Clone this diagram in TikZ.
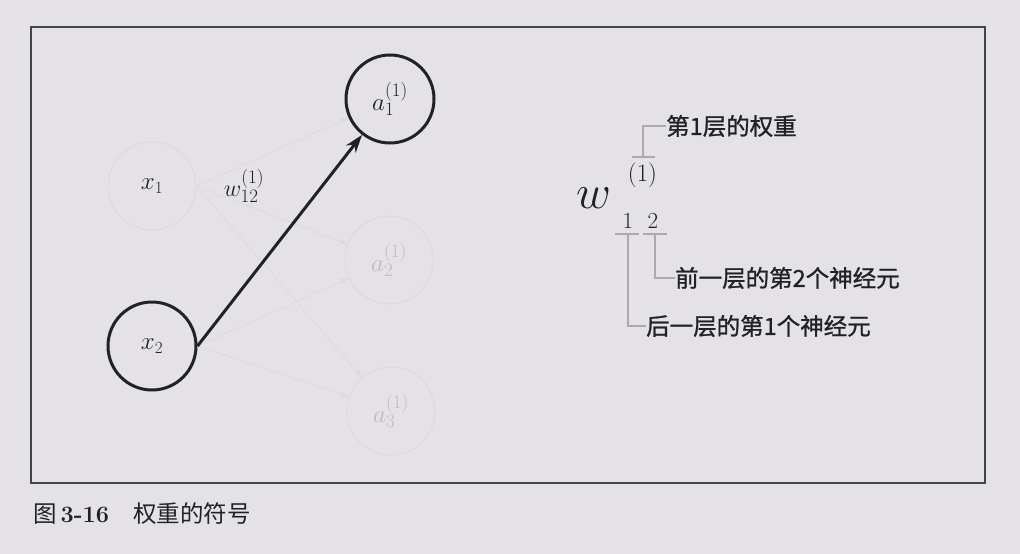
\RequirePackage{fix-cm}
\documentclass[tikz,border=0pt]{standalone}
\usepackage{fontspec}
\newfontfamily\cjk{Noto Sans CJK SC}
\newfontfamily\cjkb[FakeBold=1]{Noto Sans CJK SC}
\newcommand\scr[1]{\mbox{\fontsize{19}{20}\selectfont$#1$}}
\newcommand\scrlow[1]{\raisebox{-3pt}{\fontsize{19}{20}\selectfont$#1$}}
\newcommand\scrx[1]{\mbox{\fontsize{17}{18}\selectfont$#1$}}
\usetikzlibrary{arrows.meta}
\definecolor{bgc}{HTML}{E4E2E7}
\definecolor{framec}{HTML}{444444}
\definecolor{faintc}{HTML}{DAD8DD}
\definecolor{faintline}{HTML}{DCDAE0}
\definecolor{fainttext}{HTML}{BDBBC0}
\definecolor{boldc}{HTML}{222222}
\definecolor{brackc}{HTML}{ABA9AE}
\tikzset{
  neuron/.style={circle, minimum size=88pt, inner sep=0pt, font=\fontsize{25}{29}\selectfont},
  faintneuron/.style={neuron, draw=faintc, line width=0.8pt, text=fainttext},
  boldneuron/.style={neuron, draw=boldc, line width=3pt, text=boldc},
  faintedge/.style={draw=faintline, line width=0.8pt, -{Stealth[length=9pt,width=6pt]}},
  boldedge/.style={draw=boldc, line width=3pt, -{Stealth[length=18pt,width=12pt]}},
  brack/.style={draw=brackc, line width=1.8pt},
  mathlbl/.style={inner sep=0pt, font=\fontsize{24}{28}\selectfont},
  cjklbl/.style={inner sep=0pt, anchor=west, font=\cjkb\fontsize{23.5}{28}\selectfont, text=boldc},
}
\begin{document}
\begin{tikzpicture}[x=1pt,y=-1pt]
\fill[bgc] (0,0) rectangle (1020,554);
\useasboundingbox (0,0) rectangle (1020,554);
\draw[framec, line width=1.3pt] (31,27) rectangle (985,483);

% neurons
\node[faintneuron, text=boldc] (x1) at (152,186) {$x_{\scrx{1}}$};
\node[boldneuron] (x2) at (152,346) {$x_{\scrx{2}}$};
\node[boldneuron] (a1) at (390,99) {$a_{\scrlow{1}}^{\scr{(1)}}$};
\node[faintneuron] (a2) at (389,260) {$a_{\scrlow{2}}^{\scr{(1)}}$};
\node[faintneuron] (a3) at (391,411) {$a_{\scrlow{3}}^{\scr{(1)}}$};

% faint connectors
\draw[faintedge] (x1.east) -- (a1);
\draw[faintedge] (x1.east) -- (a2);
\draw[faintedge] (x1.east) -- (a3);
\draw[faintedge] (x2.east) -- (a2);
\draw[faintedge] (x2.east) -- (a3);
% bold connector
\draw[boldedge] (x2.east) -- (a1);

\node[mathlbl, text=boldc] (wlbl) at (244,186) {$w_{\scr{12}}^{\scr{(1)}}$};

% right-hand notation
\node[inner sep=0pt, anchor=base, font=\fontsize{48}{56}\selectfont, text=boldc] (W) at (593.5,208) {$w$};
\node[inner sep=0pt, anchor=base, font=\fontsize{25}{30}\selectfont, text=boldc] (L) at (642.5,181) {$(1)$};
\node[inner sep=0pt, anchor=base, font=\fontsize{23}{28}\selectfont, text=boldc] (I) at (628,228) {$1$};
\node[inner sep=0pt, anchor=base, font=\fontsize{23}{28}\selectfont, text=boldc] (J) at (653,228) {$2$};

\node[cjklbl] (tL) at (666,126) {第1层的权重};
\node[cjklbl] (tJ) at (675,278) {前一层的第2个神经元};
\node[cjklbl] (tI) at (646,326) {后一层的第1个神经元};

\coordinate (Lb) at (643,157);
\coordinate (Ib) at (628,234);
\coordinate (Jb) at (655,234);
\draw[brack] (632,157) -- (655,157);
\draw[brack] (Lb) |- (tL.west);
\draw[brack] (615,234) -- (639,234);
\draw[brack] (643,234) -- (667,234);
\draw[brack] (Ib) |- (tI.west);
\draw[brack] (Jb) |- (tJ.west);

% caption
\node[inner sep=0pt, anchor=west, text=boldc, font=\fontsize{23.5}{28}\selectfont] (cap) at (33,514)
  {{\cjk 图}\,\textbf{3-16}\hspace{24pt}{\cjk 权重的符号}};
\end{tikzpicture}
\end{document}
